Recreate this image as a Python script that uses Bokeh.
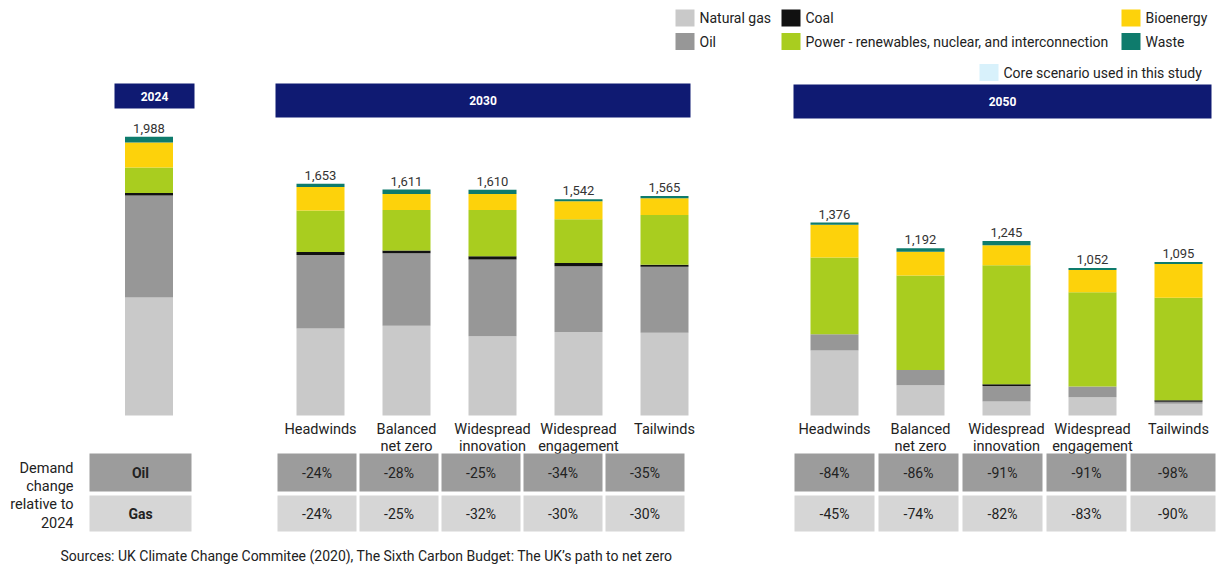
import numpy as np
from bokeh.plotting import figure
from bokeh.models import Range1d
from bokeh.core.properties import value
from bokeh.embed import file_html
from bokeh.resources import INLINE

# ---------------- data ----------------
periods = ["2024", "2030", "2050"]
scenarios = ["Headwinds", "Balanced net zero", "Widespread innovation",
             "Widespread engagement", "Tailwinds"]
scenario_lines = [["Headwinds"], ["Balanced", "net zero"], ["Widespread", "innovation"],
                  ["Widespread", "engagement"], ["Tailwinds"]]

# bar order: 2024, 2030 x5 scenarios, 2050 x5 scenarios
natural_gas = [841, 620, 640, 565, 595, 590, 463, 215, 100, 130, 83]
oil         = [727, 525, 516, 548, 470, 470, 116, 110, 110, 76, 15]
coal        = [18, 20, 20, 22, 22, 14, 0, 0, 12, 0, 10]
power       = [182, 297, 290, 330, 313, 356, 548, 673, 849, 672, 731]
bioenergy   = [178, 167, 114, 114, 128, 119, 233, 170, 143, 160, 242]
waste       = [42, 24, 31, 31, 14, 16, 16, 24, 31, 14, 14]

oil_change_2030 = ["-24%", "-28%", "-25%", "-34%", "-35%"]
gas_change_2030 = ["-24%", "-25%", "-32%", "-30%", "-30%"]
oil_change_2050 = ["-84%", "-86%", "-91%", "-91%", "-98%"]
gas_change_2050 = ["-45%", "-74%", "-82%", "-83%", "-90%"]

series_names = ["Natural gas", "Oil", "Coal",
                "Power - renewables, nuclear, and interconnection", "Bioenergy", "Waste"]
series_values = [natural_gas, oil, coal, power, bioenergy, waste]

# ---------------- styles / layout ----------------
COLORS = ["#c9c9c9", "#979797", "#111111", "#a9cd1f", "#fdd20b", "#0e7b6c"]
NAVY = "#0f1a72"
TXT = "#222222"
FONT = value("Roboto")
K = 7.13          # data units per pixel


def Y(py):
    return (415 - py) * K


p = figure(width=1216, height=565, x_range=Range1d(0, 1216),
           y_range=Range1d(Y(565), Y(0)), output_backend="svg",
           toolbar_location=None, min_border=0,
           x_axis_location=None, y_axis_location=None)
p.outline_line_color = None
p.grid.visible = False
p.background_fill_color = "white"

# bar x positions
bar_x = [148.5] + [320 + i * 86 for i in range(5)] + [834 + i * 86 for i in range(5)]
BW = 48

bottom = np.zeros(len(bar_x))
for name, vals, col in zip(series_names, series_values, COLORS):
    v = np.array(vals, dtype=float)
    p.vbar(x=bar_x, width=BW, bottom=bottom.copy(), top=bottom + v,
           fill_color=col, line_color=None)
    bottom = bottom + v

totals = bottom
p.text(x=bar_x, y=list(totals), text=[f"{int(t):,}" for t in totals],
       text_font=FONT, text_font_size="13px", text_align="center",
       text_baseline="bottom", y_offset=-4, text_color="#333333")

# period headers
hdr = [(114, 194, 83, 108), (275, 690, 83, 117), (793, 1211, 84, 118)]
for (l, r, t, b), lab in zip(hdr, periods):
    p.quad(left=[l], right=[r], top=[Y(t)], bottom=[Y(b)], fill_color=NAVY, line_color=None)
    p.text(x=[(l + r) / 2], y=[Y((t + b) / 2)], text=[lab], text_font=FONT,
           text_font_size="12px", text_font_style="bold", text_color="white",
           text_align="center", text_baseline="middle")

# scenario labels
for group in range(2):
    for i, lines in enumerate(scenario_lines):
        x = bar_x[1 + group * 5 + i]
        for j, ln in enumerate(lines):
            p.text(x=[x], y=[Y(429 + j * 16.5)], text=[ln], text_font=FONT,
                   text_font_size="14.5px", text_color=TXT,
                   text_align="center", text_baseline="middle")

# table
OIL_ROW = (453, 491)
GAS_ROW = (495, 531)
OIL_CELL = "#9c9c9c"
GAS_CELL = "#d6d6d6"

p.quad(left=[89, 89], right=[191, 191], top=[Y(OIL_ROW[0]), Y(GAS_ROW[0])],
       bottom=[Y(OIL_ROW[1]), Y(GAS_ROW[1])], fill_color=[OIL_CELL, GAS_CELL], line_color=None)
p.text(x=[140, 140], y=[Y(sum(OIL_ROW) / 2), Y(sum(GAS_ROW) / 2)], text=["Oil", "Gas"],
       text_font=FONT, text_font_size="14px", text_font_style="bold", text_color=TXT,
       text_align="center", text_baseline="middle")

for lefts, width, oil_ch, gas_ch in [
        ([277 + i * 82 for i in range(5)], 79, oil_change_2030, gas_change_2030),
        ([794 + i * 84 for i in range(5)], 80, oil_change_2050, gas_change_2050)]:
    rights = [l + width for l in lefts]
    if width == 80:
        rights[-1] = 1215
    centers = [(l + r) / 2 for l, r in zip(lefts, rights)]
    p.quad(left=lefts, right=rights, top=Y(OIL_ROW[0]), bottom=Y(OIL_ROW[1]),
           fill_color=OIL_CELL, line_color=None)
    p.quad(left=lefts, right=rights, top=Y(GAS_ROW[0]), bottom=Y(GAS_ROW[1]),
           fill_color=GAS_CELL, line_color=None)
    p.text(x=centers, y=Y(sum(OIL_ROW) / 2), text=oil_ch, text_font=FONT,
           text_font_size="14px", text_color=TXT, text_align="center", text_baseline="middle")
    p.text(x=centers, y=Y(sum(GAS_ROW) / 2), text=gas_ch, text_font=FONT,
           text_font_size="14px", text_color=TXT, text_align="center", text_baseline="middle")

demand_lines = ["Demand", "change", "relative to", "2024"]
p.text(x=[73] * 4, y=[Y(468 + i * 18) for i in range(4)], text=demand_lines,
       text_font=FONT, text_font_size="14.5px", text_color=TXT,
       text_align="right", text_baseline="middle")

# legend
legend_items = [
    (series_names[0], COLORS[0], 675, 17.5),
    (series_names[1], COLORS[1], 675, 41),
    (series_names[2], COLORS[2], 781, 17.5),
    (series_names[3], COLORS[3], 781, 41),
    (series_names[4], COLORS[4], 1121, 17.5),
    (series_names[5], COLORS[5], 1121, 41),
    ("Core scenario used in this study", "#d8f1fb", 979, 72),
]
for lab, col, lx, cy in legend_items:
    p.quad(left=[lx], right=[lx + 19], top=[Y(cy - 8.5)], bottom=[Y(cy + 8.5)],
           fill_color=col, line_color=None)
    p.text(x=[lx + 24], y=[Y(cy)], text=[lab], text_font=FONT, text_font_size="14px",
           text_color=TXT, text_align="left", text_baseline="middle")

# source
p.text(x=[60], y=[Y(555)],
       text=["Sources: UK Climate Change Commitee (2020), The Sixth Carbon Budget: The UK\u2019s path to net zero"],
       text_font=FONT, text_font_size="14px", text_color=TXT,
       text_align="left", text_baseline="middle")

open("out.html", "w").write(file_html(p, INLINE))
